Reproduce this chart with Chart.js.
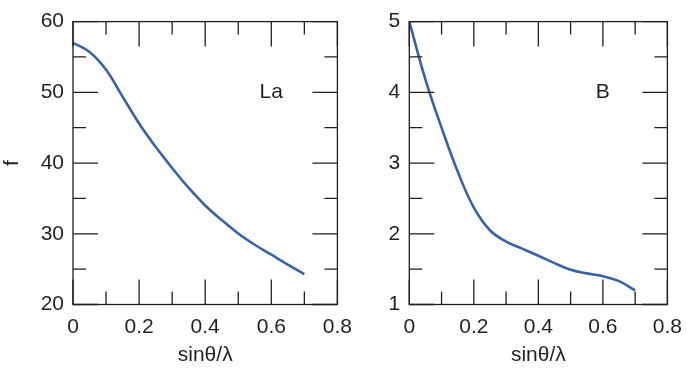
<!DOCTYPE html>
<html>
<head>
<meta charset="utf-8">
<script src="https://cdn.jsdelivr.net/npm/chart.js@4"></script>
<style>
  html, body { margin: 0; padding: 0; background: #fff; }
  body { width: 692px; height: 374px; position: relative; overflow: hidden; }
  canvas { position: absolute; top: 0; }
  #laChart { left: 0; }
  #bChart { left: 346px; }
</style>
</head>
<body>
<canvas id="laChart" width="362" height="374"></canvas>
<canvas id="bChart" width="346" height="374"></canvas>
<script>
// sin(theta)/lambda values shared by both curves
var sinThetaLambda = [0, 0.05, 0.1, 0.15, 0.2, 0.25, 0.3, 0.35, 0.4, 0.45, 0.5, 0.55, 0.6, 0.65, 0.7];
// scattering factor f for La
var fLa = [57.0, 55.7, 53.2, 49.4, 45.6, 42.3, 39.3, 36.5, 34.0, 31.95, 30.05, 28.45, 27.05, 25.65, 24.3];
// scattering factor f for B
var fB = [5.0, 4.18, 3.50, 2.88, 2.37, 2.05, 1.89, 1.79, 1.69, 1.585, 1.49, 1.44, 1.40, 1.33, 1.20];

var xTickLabels = ['0', '0.2', '0.4', '0.6', '0.8'];
var laTickLabels = ['20', '30', '40', '50', '60'];
var bTickLabels = ['1', '2', '3', '4', '5'];

var ink = '#231f20';
var lineBlue = '#3862a8';
var fontFamily = '"Liberation Sans", Arial, Helvetica, sans-serif';

// inward ticks on all four sides plus the frame and the panel label
var frameTicks = {
  id: 'frameTicks',
  afterDatasetsDraw: function (chart, args, opts) {
    var ctx = chart.ctx, a = chart.chartArea;
    var x = chart.scales.x, y = chart.scales.y;
    ctx.save();
    ctx.strokeStyle = ink;
    ctx.lineWidth = 1.3;
    ctx.beginPath();
    for (var i = 0; i <= 8; i++) {
      var px = x.getPixelForValue(i / 10);
      var len = (i % 2 === 0) ? 25 : 13;
      ctx.moveTo(px, a.bottom); ctx.lineTo(px, a.bottom - len);
      ctx.moveTo(px, a.top); ctx.lineTo(px, a.top + len);
    }
    for (var j = 0; j <= 8; j++) {
      var v = opts.yMin + j * opts.yStep / 2;
      var py = y.getPixelForValue(v);
      var l2 = (j % 2 === 0) ? 25 : 13;
      ctx.moveTo(a.left, py); ctx.lineTo(a.left + l2, py);
      ctx.moveTo(a.right, py); ctx.lineTo(a.right - l2, py);
    }
    ctx.stroke();
    ctx.strokeRect(a.left, a.top, a.right - a.left, a.bottom - a.top);
    ctx.fillStyle = ink;
    ctx.font = '21px ' + fontFamily;
    ctx.textAlign = 'center';
    ctx.textBaseline = 'middle';
    ctx.fillText(opts.label, x.getPixelForValue(opts.labelAt[0]), y.getPixelForValue(opts.labelAt[1]));
    ctx.restore();
  }
};

function makePanel(id, values, yMin, yMax, yStep, yLabels, yTitle, yWidth, padRight, label, labelAt) {
  var pts = [];
  for (var i = 0; i < sinThetaLambda.length; i++) {
    pts.push({ x: sinThetaLambda[i], y: values[i] });
  }
  return new Chart(document.getElementById(id).getContext('2d'), {
    type: 'line',
    data: {
      datasets: [{
        data: pts,
        borderColor: lineBlue,
        borderWidth: 2.6,
        pointRadius: 0,
        fill: false,
        tension: 0.4
      }]
    },
    options: {
      responsive: false,
      animation: false,
      layout: { padding: { top: 13, right: padRight, bottom: 0, left: 0 } },
      plugins: {
        legend: { display: false },
        tooltip: { enabled: false },
        frameTicks: { yMin: yMin, yStep: yStep, label: label, labelAt: labelAt }
      },
      scales: {
        x: {
          type: 'linear',
          min: 0, max: 0.8,
          grid: { display: false, drawTicks: false },
          border: { display: false },
          ticks: {
            stepSize: 0.2,
            color: ink,
            padding: 10,
            maxRotation: 0,
            font: { size: 21, family: fontFamily },
            callback: function (v, idx) { return xTickLabels[idx]; }
          },
          title: {
            display: true,
            text: 'sinθ/λ',
            color: ink,
            font: { size: 21, family: fontFamily },
            padding: { top: 0, bottom: 6 }
          },
          afterFit: function (s) { s.height = 69.5; }
        },
        y: {
          type: 'linear',
          min: yMin, max: yMax,
          grid: { display: false, drawTicks: false },
          border: { display: false },
          ticks: {
            stepSize: yStep,
            color: ink,
            padding: 9,
            font: { size: 21, family: fontFamily },
            callback: function (v, idx) { return yLabels[idx]; }
          },
          title: {
            display: yTitle !== '',
            text: yTitle,
            color: ink,
            font: { size: 21, family: fontFamily },
            padding: { top: 0, bottom: 0 }
          },
          afterFit: function (s) { s.width = yWidth; }
        }
      }
    },
    plugins: [frameTicks]
  });
}

makePanel('laChart', fLa, 20, 60, 10, laTickLabels, 'f', 73, 22, 'La', [0.6, 50]);
makePanel('bChart', fB, 1, 5, 1, bTickLabels, '', 63.3, 15, 'B', [0.6, 4]);
</script>
</body>
</html>
